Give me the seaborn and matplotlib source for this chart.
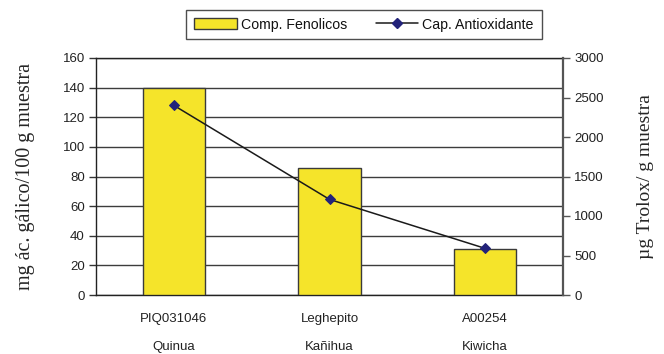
import matplotlib
matplotlib.use("Agg")
import matplotlib.pyplot as plt
import seaborn as sns
import pandas as pd
import numpy as np
from matplotlib.patches import Patch
from matplotlib.lines import Line2D

# Data
accesiones = ["PIQ031046", "Leghepito", "A00254"]
cultivos = ["Quinua", "Kañihua", "Kiwicha"]
fenolicos = [140, 86, 31]          # mg ác. gálico / 100 g muestra
antioxidante = [2400, 1210, 590]   # µg Trolox / g muestra

df = pd.DataFrame({
    "accesion": accesiones,
    "cultivo": cultivos,
    "fenolicos": fenolicos,
    "antioxidante": antioxidante,
})
df["etiqueta"] = [f"{a}\n{c}" for a, c in zip(df["accesion"], df["cultivo"])]

sns.set_style("white")
plt.rcParams["font.family"] = ["Liberation Sans", "DejaVu Sans"]

fig = plt.figure(figsize=(6.64, 3.54), dpi=100)
ax = fig.add_axes([96 / 664, 1 - 295 / 354, (563 - 96) / 664, (295 - 58) / 354])

bar_color = "#F5E42A"
sns.barplot(data=df, x="etiqueta", y="fenolicos", ax=ax, color=bar_color,
            width=0.40, edgecolor="#3a3a3a", linewidth=1.0, saturation=1, zorder=3)

ax.set_ylim(0, 160)
ax.set_yticks(np.arange(0, 161, 20))
ax.set_xlim(-0.5, 2.5)
ax.yaxis.grid(True, color="#3c3c3c", linewidth=1.0, zorder=0)
ax.set_axisbelow(True)
ax.set_xlabel("")
ax.set_ylabel("mg ác. gálico/100 g muestra", family="Liberation Serif",
              fontsize=14.5, labelpad=20)
ax.tick_params(axis="y", direction="out", length=5, width=1, color="#333333",
               labelsize=9.5, labelcolor="#222222", pad=3, left=True)
ax.tick_params(axis="x", length=0, labelsize=9.5, labelcolor="#222222", pad=13)
for lab in ax.get_xticklabels():
    lab.set_linespacing(2.75)
    lab.set_verticalalignment("top")

for side in ["left", "bottom", "top"]:
    ax.spines[side].set_visible(True)
    ax.spines[side].set_color("#222222")
    ax.spines[side].set_linewidth(1.0)
ax.spines["right"].set_visible(False)

# Secondary axis: antioxidant capacity
ax2 = ax.twinx()
sns.lineplot(x=np.arange(len(df)), y=df["antioxidante"], ax=ax2, color="#1a1a1a",
             linewidth=1.1, marker="D", markersize=5.5, markerfacecolor="#23237a",
             markeredgecolor="#23237a", zorder=4)
ax2.set_ylim(0, 3000)
ax2.set_yticks(np.arange(0, 3001, 500))
ax2.set_xlim(-0.5, 2.5)
ax2.set_ylabel("µg Trolox/ g muestra", family="Liberation Serif", fontsize=14,
               rotation=90, labelpad=24)
ax2.tick_params(axis="y", direction="out", length=5, width=1, color="#555555",
                labelsize=9.5, labelcolor="#222222", pad=3, right=True)
ax2.grid(False)
for side in ["left", "bottom", "top"]:
    ax2.spines[side].set_visible(False)
ax2.spines["right"].set_visible(True)
ax2.spines["right"].set_color("#555555")
ax2.spines["right"].set_linewidth(1.6)

handles = [
    Patch(facecolor=bar_color, edgecolor="#3a3a3a", linewidth=1.0),
    Line2D([0], [0], color="#1a1a1a", linewidth=1.1, marker="D", markersize=5,
           markerfacecolor="#23237a", markeredgecolor="#23237a"),
]
leg = fig.legend(handles, ["Comp. Fenolicos", "Cap. Antioxidante"], ncol=2,
                 loc="center", bbox_to_anchor=(364 / 664, 1 - 24.5 / 354),
                 frameon=True, fancybox=False, fontsize=10.2, handlelength=3.0,
                 handleheight=0.8, columnspacing=2.0, handletextpad=0.3,
                 borderpad=0.55, borderaxespad=0, edgecolor="#222222")
leg.get_frame().set_linewidth(1.0)
for t in leg.get_texts():
    t.set_color("#111111")

fig.savefig("out.png", dpi=100)
